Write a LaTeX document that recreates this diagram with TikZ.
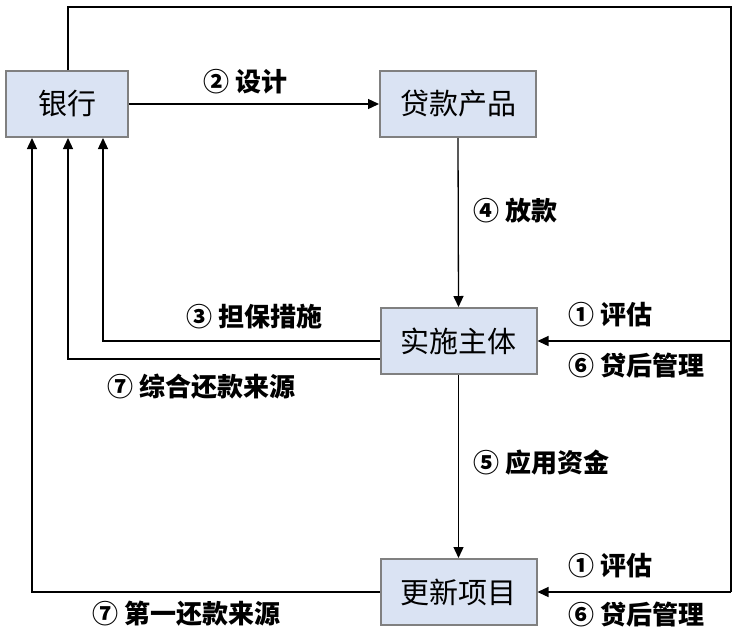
\documentclass[tikz,border=0pt]{standalone}
\usepackage{fontspec}
\setmainfont{Noto Sans CJK SC}
\usetikzlibrary{arrows.meta}
\begin{document}
\begin{tikzpicture}[x=1pt,y=-1pt,
  box/.style={draw=black!50, line width=2pt, fill=boxfill, inner sep=0pt, font=\fontsize{29}{32}\selectfont},
  conn/.style={line width=1.3pt, draw=black},
  arr/.style={conn, -{Triangle[length=11pt,width=10pt]}},
  lab/.style={font=\fontsize{26}{30}\selectfont\bfseries, anchor=west, inner sep=0pt}]
\definecolor{boxfill}{HTML}{DAE3F3}
\useasboundingbox[fill=white] (0,0) rectangle (734,638);
\node[box, minimum width=122pt, minimum height=66pt] (bank) at (67,104) {银行};
\node[box, minimum width=156pt, minimum height=66pt] (prod) at (458,104) {贷款产品};
\node[box, minimum width=156pt, minimum height=66pt] (impl) at (458.5,341) {实施主体};
\node[box, minimum width=156pt, minimum height=66pt] (proj) at (458.5,592) {更新项目};
\coordinate (tl) at (68,7);
\coordinate (tr) at (731,7);
\coordinate (rb) at (731,592);
\coordinate (rm) at (731,341);
\coordinate (a3) at (103,341);
\coordinate (a7) at (68,359);
\coordinate (a1) at (32,592);
% top loop to right side
\draw[conn] (bank.north -| tl) -- (tl) -- (tr) -- (rb);
\draw[arr] (rb) -- (proj.east);
\draw[arr] (rm) -- (impl.east);
% design
\draw[arr] (bank.east) -- (prod.west);
\draw[arr] (prod.south) -- (impl.north);
\draw[arr] (impl.south) -- (proj.north);
% returns to bank
\draw[arr] (impl.west |- a3) -- (a3) -- (a3 |- bank.south);
\draw[arr] (impl.west |- a7) -- (a7) -- (a7 |- bank.south);
\draw[arr] (proj.west |- a1) -- (a1) -- (a1 |- bank.south);
% labels
\node[lab] (l2) at (203,82) {② 设计};
\node[lab] (l4) at (473,211) {④ 放款};
\node[lab] (l3) at (186,317) {③ 担保措施};
\node[lab] (l7a) at (107,387) {⑦ 综合还款来源};
\node[lab] (l1a) at (568,315) {① 评估};
\node[lab] (l6a) at (568,366) {⑥ 贷后管理};
\node[lab] (l5) at (473,463) {⑤ 应用资金};
\node[lab] (l1b) at (568,566) {① 评估};
\node[lab] (l6b) at (568,615) {⑥ 贷后管理};
\node[lab] (l7b) at (92,614) {⑦ 第一还款来源};
\end{tikzpicture}
\end{document}
